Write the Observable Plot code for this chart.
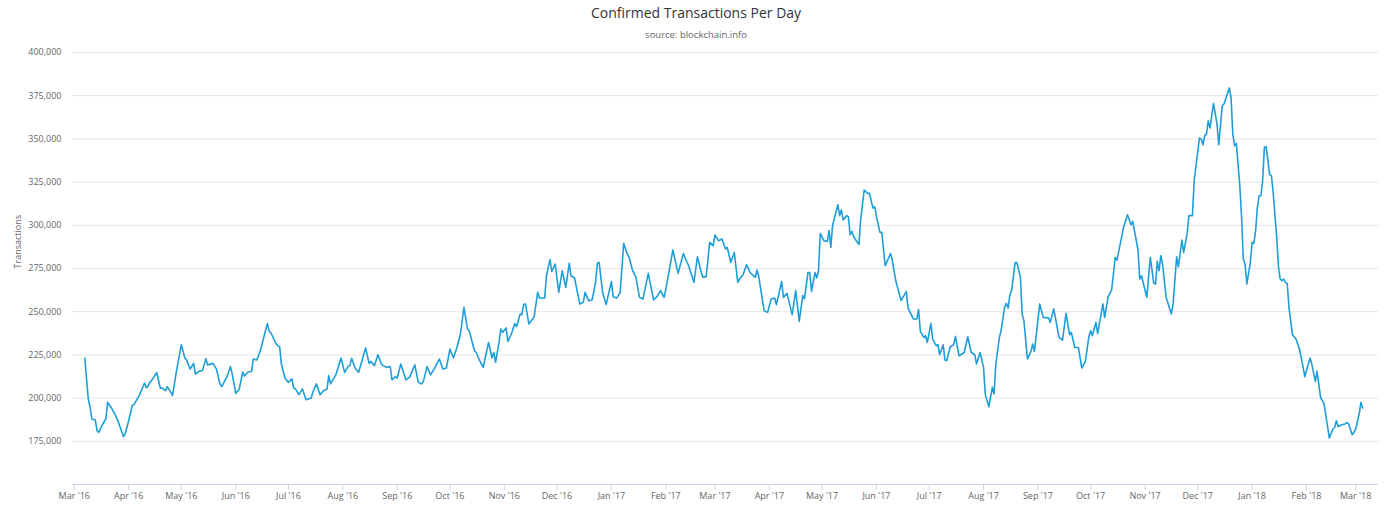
<!DOCTYPE html>
<html>
<head>
<meta charset="utf-8">
<script src="https://cdn.jsdelivr.net/npm/d3@7"></script>
<script src="https://cdn.jsdelivr.net/npm/@observablehq/plot@0.6"></script>
<style>
  html, body { margin: 0; padding: 0; background: #fff; overflow: hidden; }
  #wrap { position: relative; width: 1392px; height: 513px; font-family: "Open Sans", sans-serif; }
  #title { position: absolute; left: 0; top: 4px; width: 1392px; text-align: center; font-size: 14px; line-height: 18px; color: #333; }
  #subtitle { position: absolute; left: 0; top: 29px; width: 1392px; text-align: center; font-size: 9.5px; line-height: 12px; color: #666; }
</style>
</head>
<body>
<div id="wrap">
  <div id="chart"></div>
  <div id="title">Confirmed Transactions Per Day</div>
  <div id="subtitle">source: blockchain.info</div>
</div>
<script>
// ---- data ----
const startDate = "2016-03-01";          // day 0
const xDomain = ["2016-02-29", "2018-03-14"];
const yDomain = [150000, 400000];
const yTicks = [175000, 200000, 225000, 250000, 275000, 300000, 325000, 350000, 375000, 400000];

// days since 2016-03-01
const days = [
  6,8,9,10,12,13,14,16,18,19,21,23,25,28,29,31,33,34,37,40,41,42,43,44,47,49,50,52,53,54,56,58,61,63,64,66,68,69,71,73,75,76,79,81,83,84,87,89,90,92,94,96,97,99,101,102,104,106,110,111,112,115,117,118,120,122,124,125,126,128,130,132,135,136,138,140,142,144,145,146,149,152,154,156,157,158,160,162,166,168,169,171,173,175,176,178,180,181,183,184,186,189,191,194,196,198,199,201,203,205,208,210,212,214,216,218,220,222,224,225,228,229,
  231,233,236,238,239,240,242,243,244,246,247,249,251,252,254,255,256,257,259,262,264,265,268,269,271,272,274,276,278,280,282,283,285,288,290,291,293,295,297,298,299,301,303,306,307,309,311,313,315,316,318,320,322,324,327,330,332,334,336,337,339,341,344,347,348,350,
  353,355,357,358,360,362,364,365,367,369,371,372,374,376,378,379,381,383,385,388,389,390,393,395,397,399,400,403,404,406,409,411,413,415,416,418,419,420,422,423,424,425,427,429,430,431,432,435,436,437,438,440,441,442,443,444,447,448,450,452,453,455,456,457,459,460,462,465,466,468,471,
  474,475,478,480,481,482,484,485,486,488,489,491,492,493,495,496,497,499,501,502,504,507,509,511,513,514,516,518,519,521,523,524,525,527,528,530,531,532,533,534,536,537,539,540,541,543,545,546,547,550,552,555,556,558,560,561,563,565,567,568,570,572,574,576,578,579,580,582,583,586,587,589,591,593,594,598,600,602,
  603,606,607,608,611,613,615,616,617,618,619,620,622,625,626,628,629,631,632,634,635,637,638,641,642,643,644,645,646,647,649,651,652,654,655,658,659,660,661,662,664,665,666,667,668,670,671,672,673,674,675,676,677,678,679,680,681,682,683,685,686,687,688,689,690,691,692,694,696,698,700,701,704,705,707,708,710,711,712,715,717,718,719,720,722,724,725,726,728,729,730,732,733,734
];

// confirmed transactions per day, in thousands
const txK = [
  223.2,199.5,195.0,187.9,187.3,181.1,180.2,184.6,187.9,197.5,194.6,191.1,186.5,177.8,179.2,186.9,195.6,196.2,201.4,208.7,206.0,206.8,209.1,210.1,214.7,205.8,205.8,204.3,206.6,205.0,201.6,214.3,230.9,223.2,222.1,216.8,220.1,213.9,215.5,215.9,222.8,219.2,220.1,216.8,208.2,206.6,212.4,218.2,213.9,202.7,205.3,215.1,212.8,215.1,215.5,222.6,222.1,227.4,243.2,238.6,237.8,231.3,229.7,219.7,211.6,209.1,211.1,205.8,205.3,202.0,205.3,199.1,200.1,203.7,208.2,202.0,204.3,205.3,213.0,208.2,213.4,223.2,214.9,218.2,218.8,223.0,217.4,214.9,229.0,220.1,221.2,218.8,225.1,219.7,218.8,217.8,218.2,210.6,212.4,211.6,219.7,210.5,212.0,219.3,209.1,208.2,210.1,218.2,213.5,216.8,222.6,216.8,217.4,228.4,223.2,229.3,237.1,252.5,240.0,239.0,227.4,226.4,
  221.6,217.8,232.2,223.2,226.4,220.7,232.2,240.0,238.0,240.6,232.8,237.1,243.2,241.3,248.7,248.3,254.1,254.5,242.9,247.1,261.2,257.9,257.9,270.8,280.1,273.3,277.6,261.2,273.7,264.1,278.0,270.8,269.5,254.5,255.4,261.2,256.4,256.8,267.0,278.0,278.5,261.2,254.1,267.5,258.7,257.9,261.2,289.5,283.4,281.8,274.1,269.9,258.3,257.4,272.2,256.8,258.7,262.2,258.3,263.1,274.1,285.7,272.2,283.7,281.1,276.6,
  267.0,281.8,273.7,269.9,270.3,290.1,288.2,294.4,291.1,292.1,286.3,287.2,278.5,284.3,267.0,268.9,271.4,277.2,272.7,269.9,274.1,269.9,250.6,249.6,257.4,257.9,254.1,267.5,258.3,260.6,248.3,262.2,244.4,259.3,257.4,272.7,272.7,261.7,272.7,269.5,273.7,295.3,291.1,290.7,296.9,287.2,299.8,311.9,305.6,308.9,303.1,305.6,305.0,294.6,296.5,293.4,288.8,303.1,320.4,318.5,318.5,310.0,310.8,305.0,295.9,295.9,276.6,283.7,279.9,267.9,256.4,
  261.6,252.1,245.8,245.8,251.3,238.6,235.1,236.1,232.2,243.2,234.2,230.3,230.9,225.1,230.9,222.1,221.6,229.7,230.9,235.7,224.5,226.4,235.5,226.4,225.1,219.7,226.4,217.8,202.0,195.0,206.2,202.4,219.7,235.1,239.0,252.5,254.8,252.1,259.8,262.2,278.5,278.5,269.9,248.7,244.8,222.6,227.0,231.3,227.0,254.5,246.7,246.4,243.8,251.6,240.6,235.1,233.6,249.0,236.7,238.0,229.3,229.3,217.4,221.2,235.5,239.0,236.1,243.8,237.4,254.5,246.7,258.7,262.6,281.4,279.9,299.8,306.1,300.3,
  302.3,285.7,268.9,270.8,258.3,281.4,266.4,266.0,279.1,273.7,282.4,277.6,258.3,248.7,254.5,281.8,276.0,291.5,284.3,295.3,305.6,305.6,325.8,350.5,349.9,346.6,351.9,352.8,360.5,356.3,370.5,358.6,346.6,369.2,370.2,379.5,374.0,352.8,346.1,347.4,322.9,304.6,280.5,277.2,266.0,278.5,290.1,289.5,296.9,310.4,317.1,317.1,325.8,345.1,345.5,337.4,329.3,328.7,319.0,293.0,276.0,268.9,267.9,268.9,267.0,266.4,252.5,236.7,234.2,228.4,218.2,212.4,223.2,219.7,209.7,215.5,200.4,198.5,196.6,176.9,182.1,183.0,186.9,183.5,184.6,185.0,185.9,185.0,178.8,180.2,182.1,190.8,197.5,194.3
];

const start = new Date(startDate + "T00:00:00Z");
const data = days.map((d, i) => ({ date: d3.utcDay.offset(start, d), value: txK[i] * 1000 }));

const chart = Plot.plot({
  width: 1392,
  height: 513,
  marginTop: 52,
  marginBottom: 29,
  marginLeft: 72,
  marginRight: 14,
  style: { fontFamily: "'Open Sans', sans-serif", background: "#fff" },
  x: { type: "utc", domain: xDomain.map(s => new Date(s + "T00:00:00Z")) },
  y: { domain: yDomain },
  marks: [
    Plot.gridY(yTicks, { stroke: "#e6e6e6", strokeOpacity: 1 }),
    Plot.ruleY([yDomain[0]], { stroke: "#ccd6eb" }),
    Plot.axisY(yTicks, {
      tickSize: 0, tickPadding: 11, tickFormat: d3.format(","),
      fontSize: 9, fill: "#666", label: null
    }),
    Plot.text(["Transactions"], {
      frameAnchor: "left", dx: -54, rotate: -90, fontSize: 9, fill: "#666"
    }),
    Plot.axisX({
      ticks: d3.utcMonth.every(1), tickFormat: d3.utcFormat("%b '%y"),
      tickSize: 6, tickPadding: 2, stroke: "#ccd6eb", fontSize: 9, fill: "#666", label: null
    }),
    Plot.lineY(data, { x: "date", y: "value", stroke: "#1d9ed9", strokeWidth: 1.6 })
  ]
});
document.getElementById("chart").appendChild(chart);
</script>
</body>
</html>
